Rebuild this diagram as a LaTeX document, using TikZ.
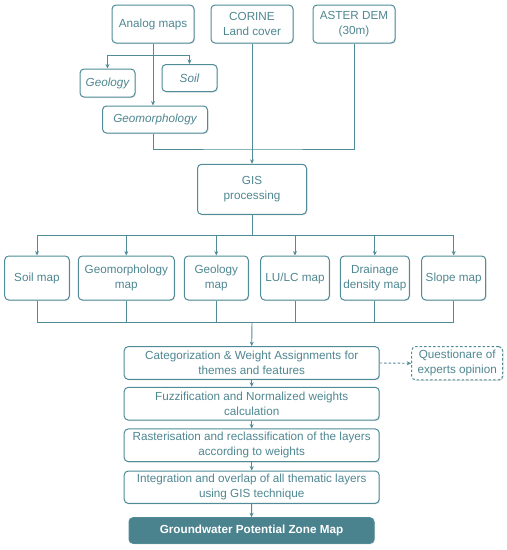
\documentclass[tikz,border=0pt]{standalone}
\usepackage{fontspec}
\setmainfont{Liberation Sans}
\usetikzlibrary{arrows.meta,shadows}
\definecolor{ln}{HTML}{4F8C98}
\definecolor{tx}{HTML}{4F8791}
\definecolor{gw}{HTML}{4A828E}
\begin{document}
\begin{tikzpicture}[x=1pt,y=-1pt,
  box/.style={draw=ln,line width=1pt,rounded corners=4pt,fill=white,
    drop shadow={opacity=0.22,shadow xshift=1pt,shadow yshift=-1pt},
    text=tx,align=center,inner sep=0pt,
    font=\fontsize{11.7}{14.7}\selectfont},
  ibox/.style={box,font=\fontsize{11.7}{14.7}\selectfont\itshape},
  wl/.style={draw=ln,line width=0.9pt},
  arr/.style={wl,-{Stealth[length=4.5pt,width=4pt]}},
  darr/.style={wl,dashed,dash pattern=on 2.5pt off 2pt,-{Stealth[length=4.5pt,width=4pt]}}]
\useasboundingbox (0,0) rectangle (507,550);
% top sources
\node[box,minimum width=82pt,minimum height=38pt] (analog) at (153,24) {Analog maps};
\node[box,minimum width=82pt,minimum height=38pt] (corine) at (252,24) {CORINE\\Land cover};
\node[box,minimum width=82pt,minimum height=38pt] (aster) at (354,24) {ASTER DEM\\(30m)};
\node[ibox,minimum width=55pt,minimum height=28pt] (geol) at (107.5,83) {Geology};
\node[ibox,minimum width=55pt,minimum height=27pt] (soil) at (189.5,78) {Soil};
\node[ibox,minimum width=105pt,minimum height=27pt] (geom) at (155,119.5) {Geomorphology};
\node[box,minimum width=109pt,minimum height=50pt] (gis) at (252,189.3) {GIS\\processing};
\coordinate (ja) at (153,55);
\coordinate (j1) at (252,149);
\coordinate (j2) at (252,235);
\coordinate (j3) at (252,322.3);
% maps
\node[box,minimum width=64.6pt,minimum height=44pt] (m1) at (37,278) {Soil map};
\node[box,minimum width=96pt,minimum height=44pt] (m2) at (126.3,278) {Geomorphology\\map};
\node[box,minimum width=64pt,minimum height=44pt] (m3) at (216.3,278) {Geology\\map};
\node[box,minimum width=68.6pt,minimum height=44pt] (m4) at (295,278) {LU/LC map};
\node[box,minimum width=69pt,minimum height=44pt] (m5) at (374.8,278) {Drainage\\density map};
\node[box,minimum width=64pt,minimum height=44pt] (m6) at (453.7,278) {Slope map};
% process stack
\node[box,minimum width=255pt,minimum height=32.7pt] (cat) at (251.7,363) {Categorization \& Weight Assignments for\\themes and features};
\node[box,minimum width=255pt,minimum height=32.7pt] (fuz) at (251.7,403.7) {Fuzzification and Normalized weights\\calculation};
\node[box,minimum width=255pt,minimum height=32.7pt] (ras) at (251.7,445.3) {Rasterisation and reclassification of the layers\\according to weights};
\node[box,minimum width=255pt,minimum height=32.3pt] (int) at (251.7,487.2) {Integration and overlap of all thematic layers\\using GIS technique};
\node[box,fill=gw,text=white,minimum width=245pt,minimum height=25.6pt,font=\fontsize{11.7}{14.7}\selectfont\bfseries] (gwm) at (251.5,530.5) {Groundwater Potential Zone Map};
\node[box,dashed,dash pattern=on 2.5pt off 2pt,minimum width=91pt,minimum height=33.3pt] (que) at (457.2,363.3) {Questionare of\\experts opinion};
% connectors top
\draw[wl] (analog.south) -- (ja);
\draw[arr] (ja) -| (geol.north);
\draw[arr] (ja) -| (soil.north);
\draw[arr] (ja) -- (ja |- geom.north);
\draw[wl] (geom.south -| ja) |- (j1) -| (aster.south);
\draw[arr] (corine.south) -- (gis.north);
\draw[wl] (gis.south) -- (j2);
\foreach \m in {m1,m2,m3,m4,m5,m6}{
  \draw[arr] (j2) -| (\m.north);
  \draw[wl] (\m.south) |- (j3);
}
\draw[arr] (j3) -- (cat.north);
\draw[arr] (cat.south) -- (fuz.north);
\draw[arr] (fuz.south) -- (ras.north);
\draw[arr] (ras.south) -- (int.north);
\draw[arr] (int.south) -- (gwm.north);
\draw[darr] (cat.east) -- (que.west);
\end{tikzpicture}
\end{document}
